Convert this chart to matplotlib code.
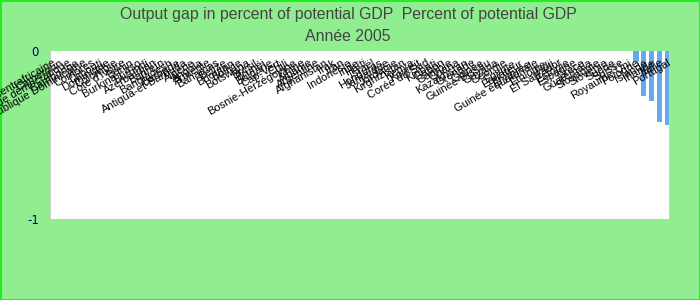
import matplotlib
matplotlib.use("Agg")
import matplotlib.pyplot as plt

# categories, sorted the way the chart shows them (most are zero)
countries = [
    "République centrafricaine", "Cameroun", "Congo, République démocratique",
    "Cambodge", "République Dominicaine", "Comores", "Djibouti", "Dominique",
    "Colombie", "Côte d'Ivoire", "Bénin", "Burkina Faso", "Burundi",
    "Azerbaïdjan", "Bahreïn", "Bangladesh", "Barbade", "Antigua-et-Barbuda",
    "Algérie", "Angola", "Arménie", "Bahamas", "Belize", "Bhoutan", "Bolivie",
    "Botswana", "Brésil", "Brunéi", "Bulgarie", "Cap-Vert", "Chili",
    "Bosnie-Herzégovine", "Chine", "Albanie", "Argentine", "Afghanistan",
    "Irak", "Iran", "Indonésie", "Inde", "Haïti", "Israël", "Honduras",
    "Jamaïque", "Jordanie", "Kirghizistan", "Kenya", "Koweït", "Corée du Sud",
    "Kiribati", "Gabon", "Gambie", "Ghana", "Kazakhstan", "Grenade", "Guinée",
    "Guinée-Bissau", "Guyana", "Géorgie", "Égypte", "Équateur", "Érythrée",
    "Guinée équatoriale", "Éthiopie", "Fidji", "El Salvador", "Estonie",
    "Espagne", "Grèce", "Guatemala", "Slovaquie", "Slovénie", "Suède",
    "Suisse", "Royaume-Uni", "Pologne", "Islande", "Irlande", "Italie",
    "Portugal",
]
gap = [0.0] * 75 + [-0.065, -0.27, -0.30, -0.42, -0.44]

title_lines = ["Output gap in percent of potential GDP  Percent of potential GDP",
               "Année 2005"]

fig = plt.figure(figsize=(7, 3), dpi=100)
fig.patch.set_facecolor("#90ee90")
fig.patch.set_edgecolor("#22ee22")
fig.patch.set_linewidth(2)

ax = fig.add_axes([0.0714, 0.27, 0.885, 0.56])
ax.set_facecolor("white")

xs = list(range(len(countries)))
ax.bar(xs, gap, width=0.65, color="#66aaee")

ax.set_ylim(-1, 0)
ax.set_xlim(-0.3, len(countries) - 0.7)
ax.set_yticks([-1, 0])
ax.set_yticklabels(["-1", "0"], color="#00008b", fontsize=8.5)
ax.tick_params(axis="y", length=0, pad=8)
ax.set_xticks([])

for side in ["left", "right", "bottom"]:
    ax.spines[side].set_color("#cccccc")
ax.spines["top"].set_visible(False)

# category labels sit under the zero line, rotated
for i, name in enumerate(countries):
    ax.text(i, -0.04, name, rotation=30, rotation_mode="anchor",
            ha="right", va="top", fontsize=8, family="Liberation Sans",
            color="black", clip_on=False)

fig.text(0.497, 0.95, title_lines[0], ha="center", va="center",
         fontsize=11.4, family="Liberation Sans", color="#444444")
fig.text(0.497, 0.878, title_lines[1], ha="center", va="center",
         fontsize=11.4, family="Liberation Sans", color="#444444")

fig.savefig("out.png", dpi=100, facecolor=fig.get_facecolor(),
            edgecolor=fig.get_edgecolor())
